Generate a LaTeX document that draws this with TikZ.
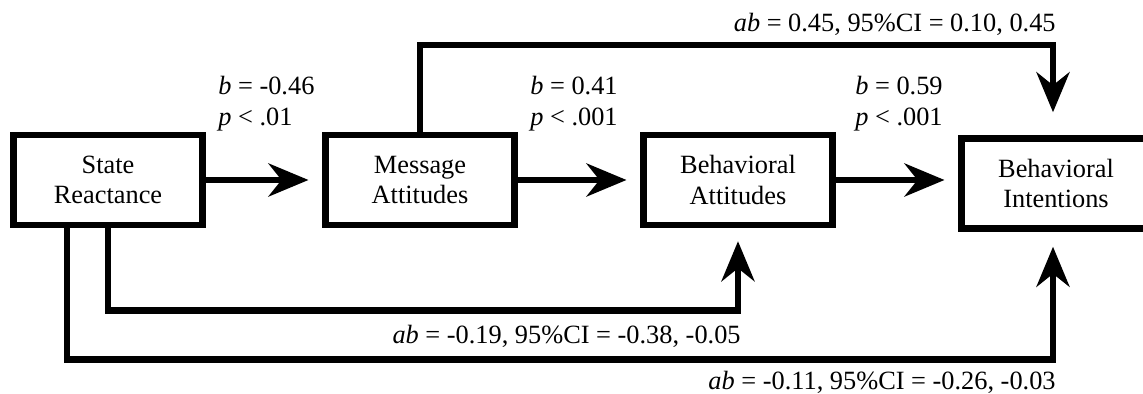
\documentclass[tikz,border=0pt]{standalone}
\usepackage{fontspec}
\setmainfont{Liberation Serif}
\usepackage{tikz}
\usetikzlibrary{arrows.meta}

\begin{document}
\begin{tikzpicture}[x=0.02cm, y=-0.02cm,
  nodes={font=\fontsize{15}{17.5}\selectfont},
  box/.style={draw, line width=0.13cm, minimum width=3.79cm, minimum height=1.8cm, align=center},
  lbl/.style={inner sep=0pt, align=left},
  arr/.style={-{Stealth[length=0.8cm, width=0.66cm, inset=0.26cm]}, line width=0.13cm, shorten >=0.27cm}]
\useasboundingbox (0,0) rectangle (1143,394);

\node[box] (sr) at (108, 180) {State\\Reactance};
\node[box] (ma) at (420, 180) {Message\\Attitudes};
\node[box] (ba) at (738, 180) {Behavioral\\Attitudes};
\node[box] (bi) at (1056, 183.5) {Behavioral\\Intentions};

\node[lbl, anchor=north west] (b1) at (218, 76) {\textit{b} = -0.46\\\textit{p} < .01};
\node[lbl, anchor=north west] (b2) at (530, 76) {\textit{b} = 0.41\\\textit{p} < .001};
\node[lbl, anchor=north west] (b3) at (855, 76) {\textit{b} = 0.59\\\textit{p} < .001};
\node[lbl, anchor=base east] (ab1) at (1056, 32) {\textit{ab} = 0.45, 95\%CI = 0.10, 0.45};
\node[lbl, anchor=base east] (ab2) at (741, 344) {\textit{ab} = -0.19, 95\%CI = -0.38, -0.05};
\node[lbl, anchor=base east] (ab3) at (1056, 390) {\textit{ab} = -0.11, 95\%CI = -0.26, -0.03};

\draw[arr] (sr) -- (ma);
\draw[arr] (ma) -- (ba);
\draw[arr] (ba.east) -- (ba.east -| bi.west);
\draw[arr, shorten >=0.46cm] (ma.north) -- ++(0,-87) -| ([xshift=-0.06cm]bi.north);
\draw[arr, shorten >=0.26cm] (sr.south) -- ++(0,82.5) -| (ba.south);
\draw[arr, shorten >=0.3cm] ([xshift=-0.82cm]sr.south) -- ++(0,131.5) -| ([xshift=-0.06cm]bi.south);
\end{tikzpicture}
\end{document}
